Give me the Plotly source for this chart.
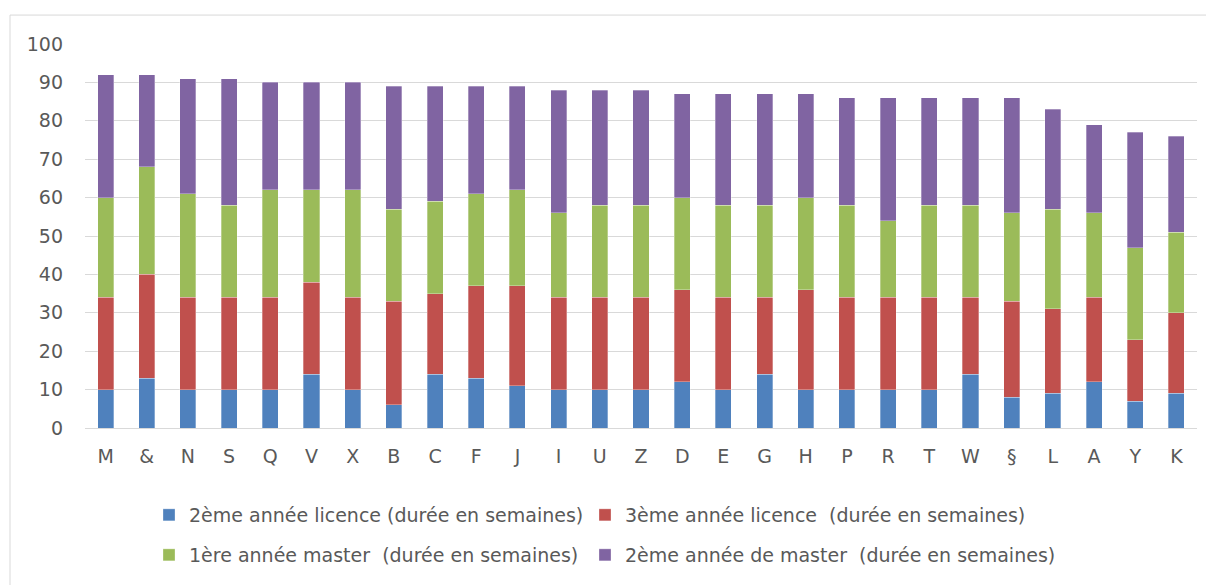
import plotly.graph_objects as go

categories = ["M", "&", "N", "S", "Q", "V", "X", "B", "C", "F", "J", "I", "U", "Z",
              "D", "E", "G", "H", "P", "R", "T", "W", "§", "L", "A", "Y", "K"]
licence2 = [10, 13, 10, 10, 10, 14, 10, 6, 14, 13, 11, 10, 10, 10,
            12, 10, 14, 10, 10, 10, 10, 14, 8, 9, 12, 7, 9]
licence3 = [24, 27, 24, 24, 24, 24, 24, 27, 21, 24, 26, 24, 24, 24,
            24, 24, 20, 26, 24, 24, 24, 20, 25, 22, 22, 16, 21]
master1 = [26, 28, 27, 24, 28, 24, 28, 24, 24, 24, 25, 22, 24, 24,
           24, 24, 24, 24, 24, 20, 24, 24, 23, 26, 22, 24, 21]
master2 = [32, 24, 30, 33, 28, 28, 28, 32, 30, 28, 27, 32, 30, 30,
           27, 29, 29, 27, 28, 32, 28, 28, 30, 26, 23, 30, 25]

series_names = [
    "2ème année licence (durée en semaines)",
    "3ème année licence  (durée en semaines)",
    "1ère année master  (durée en semaines)",
    "2ème année de master  (durée en semaines)",
]
series_values = [licence2, licence3, master1, master2]
colors = ["#4F81BD", "#C0504D", "#9BBB59", "#8064A2"]
legend_ids = ["legend", "legend2", "legend3", "legend4"]

FONT = "DejaVu Sans"
TXT = "#595959"
fig = go.Figure()
for name, vals, col, lg in zip(series_names, series_values, colors, legend_ids):
    fig.add_trace(go.Bar(
        x=categories, y=vals, name=name, legend=lg,
        marker=dict(color=col, line=dict(color="rgba(255,255,255,0.6)", width=0.5)),
    ))

W, H = 1206, 577
L, R, T, B = 77, 17, 36, 156
pw, ph = W - L - R, H - T - B

leg_common = dict(
    orientation="h", xanchor="left", yanchor="middle",
    font=dict(family=FONT, size=19, color=TXT),
    itemwidth=30, bgcolor="rgba(0,0,0,0)",
)
col_x = [141, 577]
row_y = [507, 547]

fig.update_layout(
    barmode="stack",
    bargap=0.61,
    width=W, height=H,
    margin=dict(l=L, r=R, t=T, b=B),
    paper_bgcolor="white", plot_bgcolor="white",
    font=dict(family=FONT, size=19, color=TXT),
    showlegend=True,
    legend=dict(x=(col_x[0] - L) / pw, y=(H - B - row_y[0]) / ph, **leg_common),
    legend2=dict(x=(col_x[1] - L) / pw, y=(H - B - row_y[0]) / ph, **leg_common),
    legend3=dict(x=(col_x[0] - L) / pw, y=(H - B - row_y[1]) / ph, **leg_common),
    legend4=dict(x=(col_x[1] - L) / pw, y=(H - B - row_y[1]) / ph, **leg_common),
    xaxis=dict(showgrid=False, ticks="", showline=False, ticklabelstandoff=15,
               tickfont=dict(size=19, color=TXT)),
    yaxis=dict(range=[0, 100], dtick=10, showgrid=True, gridcolor="#D9D9D9",
               gridwidth=1, zeroline=True, zerolinecolor="#D9D9D9", zerolinewidth=1,
               ticks="", showline=False, ticklabelstandoff=21,
               tickfont=dict(size=19, color=TXT)),
    shapes=[dict(type="rect", xref="paper", yref="paper",
                 x0=(2 - L) / pw, x1=1.1, y0=-0.5, y1=1 + (T - 7) / ph,
                 line=dict(color="#D9D9D9", width=1), fillcolor="rgba(0,0,0,0)",
                 layer="below")],
)

fig.write_html("out.html")
